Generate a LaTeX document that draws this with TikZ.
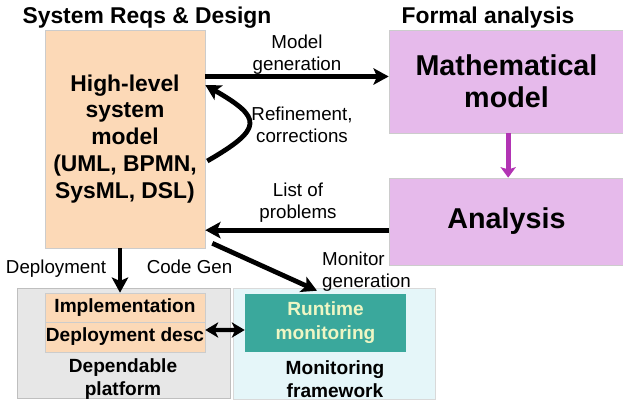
\documentclass[tikz,border=0pt]{standalone}
\usepackage{fontspec}
\setmainfont{Liberation Sans}
\usetikzlibrary{arrows.meta}

\definecolor{peach}{RGB}{252,217,183}
\definecolor{lilac}{RGB}{230,186,235}
\definecolor{plum}{RGB}{178,52,180}
\definecolor{monteal}{RGB}{58,168,156}
\definecolor{paleyellow}{RGB}{238,246,196}
\definecolor{platgray}{RGB}{231,231,231}
\definecolor{moncyan}{RGB}{229,246,249}

\begin{document}
\begin{tikzpicture}[x=0.03cm, y=-0.03cm,
    box/.style = {draw=black!20, line width=0.5pt, inner sep=0pt, align=center},
    hugetxt/.style = {font=\fontsize{24.5}{27.5}\selectfont\bfseries},
    bigtxt/.style = {font=\fontsize{19.5}{23}\selectfont\bfseries},
    smalltxt/.style = {font=\fontsize{16.3}{20}\selectfont\bfseries},
    lab/.style = {inner sep=0pt, align=center, font=\fontsize{16}{18.7}\selectfont},
    arr/.style = {line width=4.1pt, -{Stealth[length=13pt, width=14pt, inset=3pt]}},
    dblarr/.style = {line width=3.8pt, {Stealth[length=11pt, width=13pt, inset=3pt]}-{Stealth[length=11pt, width=13pt, inset=3pt]}}
]
    \useasboundingbox (0,0) rectangle (623,404);

    % titles
    \node[bigtxt, inner sep=0pt] (sysTitle) at (147,17.5) {System Reqs \& Design};
    \node[bigtxt, inner sep=0pt] (formTitle) at (488,17.5) {Formal analysis};

    % system model and formal analysis
    \node[box, bigtxt, fill=peach, minimum width=4.8cm, minimum height=6.54cm] (hlm) at (125,139)
        {High-level\\system\\model\\(UML, BPMN,\\SysML, DSL)};
    \node[box, hugetxt, fill=lilac, minimum width=7.05cm, minimum height=3.09cm] (math) at (506.5,81.5)
        {Mathematical\\model};
    \node[box, hugetxt, fill=lilac, minimum width=7.05cm, minimum height=2.61cm] (ana) at (506.5,221.5)
        {Analysis};

    % platform and monitoring
    \node[box, draw=black!25, fill=platgray, minimum width=6.39cm, minimum height=3.3cm] (dp) at (123.5,343) {};
    \node[box, smalltxt, fill=peach, minimum width=4.8cm, minimum height=0.87cm] (impl) at (125,307.5) {Implementation};
    \node[box, smalltxt, fill=peach, minimum width=4.8cm, minimum height=0.9cm] (ddesc) at (125,337) {Deployment desc};
    \node[smalltxt, inner sep=0pt, align=center] (dplab) at (123,379) {Dependable\\platform};

    \node[box, draw=black!15, fill=moncyan, minimum width=6.06cm, minimum height=3.33cm] (mf) at (334,343.5) {};
    \node[box, draw=none, smalltxt, fill=monteal, text=paleyellow, minimum width=4.83cm, minimum height=1.74cm,
        font=\fontsize{16.3}{20.4}\selectfont\bfseries] (rm) at (325.5,323) {Runtime\\monitoring};
    \node[smalltxt, inner sep=0pt, align=center] (mflab) at (335,379) {Monitoring\\framework};

    % connector labels
    \node[lab] (mglab) at (297,55) {Model\\generation};
    \node[lab] (reflab) at (302,125) {Refinement,\\corrections};
    \node[lab] (lplab) at (298,203) {List of\\problems};
    \node[lab, align=left, anchor=west] (mgenlab) at (322,272) {Monitor\\generation};
    \node[lab] (deplab) at (56,269) {Deployment};
    \node[lab] (cglab) at (189.5,267) {Code Gen};

    % connectors
    \coordinate (mgy) at ([yshift=0.15cm]math.west);
    \coordinate (lpy) at ([yshift=-0.26cm]ana.west);
    \draw[arr] (hlm.east |- mgy) -- (mgy);
    \draw[arr] (lpy) -- (hlm.east |- lpy);
    \draw[arr] ([xshift=0.06cm, yshift=-0.66cm]hlm.east) to[out=30, in=-30, looseness=2.2] ([yshift=1.62cm]hlm.east);
    \draw[line width=4pt, plum, -{Stealth[length=9pt, width=13pt, inset=2pt]}]
        ([xshift=0.05cm]math.south) -- ([xshift=0.05cm]ana.north);
    \draw[arr] ([xshift=-0.15cm]hlm.south) -- ([xshift=-0.15cm]impl.north);
    \draw[arr] ([xshift=0.21cm, yshift=0.15cm]hlm.south east) -- ([xshift=-0.255cm, yshift=0.09cm]rm.north);
    \draw[dblarr] ([yshift=0.21cm]ddesc.east) -- ([yshift=-0.21cm]rm.west);
\end{tikzpicture}
\end{document}
